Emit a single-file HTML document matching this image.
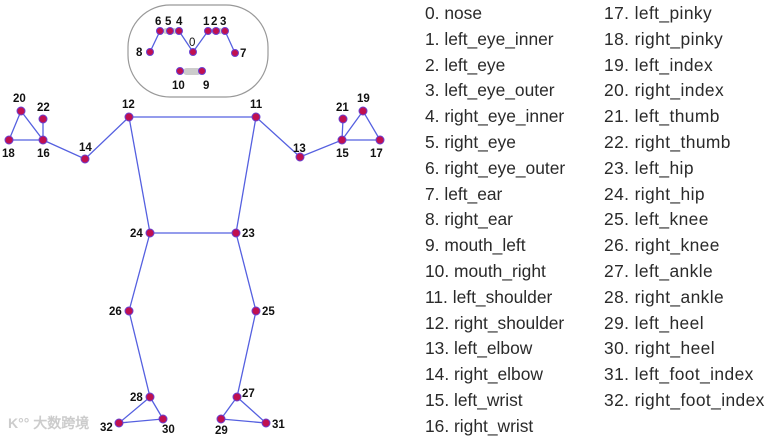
<!DOCTYPE html><html><head><style>
html,body{margin:0;padding:0;background:#fff;}
.c{position:absolute;font:17.4px "Liberation Sans",sans-serif;color:#2a2a2a;line-height:25.8px;white-space:pre}
</style></head><body>
<div style="position:relative;width:772px;height:438px;overflow:hidden">
<svg width="400" height="438" style="position:absolute;left:0;top:0" font-family="Liberation Sans,sans-serif" font-weight="bold" font-size="11.5" fill="#111">
<rect x="128" y="5" width="140" height="92" rx="42" fill="none" stroke="#999" stroke-width="1.2"/>
<g stroke="#5560e0" stroke-width="1.3" fill="none">
<polyline points="150,52 160,31 179,31 193,52 208,31 225,31 235,53"/>
<polyline points="9,140 21,111 43,140 9,140"/><line x1="43" y1="140" x2="43" y2="119"/>
<polyline points="43,140 85,159 129,117 256,117 300,157 342,140 380,140 363,111 342,140 343,119"/>
<polyline points="129,117 150,233 236,233 256,117"/>
<polyline points="150,233 129,311 150,397 119,423 163,419 150,397"/>
<polyline points="236,233 256,311 237,397 221,419 266,423 237,397"/>
</g>
<rect x="163" y="28" width="14" height="6" rx="3" fill="#ccc"/><rect x="211" y="28" width="12" height="6" rx="3" fill="#ccc"/>
<rect x="183" y="68" width="18" height="7" rx="3.5" fill="#ccc"/>
<g fill="#c01050" stroke="#6a40d0" stroke-width="1">
<circle cx="193" cy="52" r="3.5"/><circle cx="208" cy="31" r="3.5"/><circle cx="216" cy="31" r="3.5"/><circle cx="225" cy="31" r="3.5"/><circle cx="179" cy="31" r="3.5"/><circle cx="170" cy="31" r="3.5"/><circle cx="160" cy="31" r="3.5"/><circle cx="235" cy="53" r="3.5"/><circle cx="150" cy="52" r="3.5"/><circle cx="202" cy="71" r="3.5"/><circle cx="180" cy="71" r="3.5"/>
<circle cx="256" cy="117" r="4"/><circle cx="129" cy="117" r="4"/><circle cx="300" cy="157" r="4"/><circle cx="85" cy="159" r="4"/><circle cx="342" cy="140" r="4"/><circle cx="43" cy="140" r="4"/><circle cx="380" cy="140" r="4"/><circle cx="9" cy="140" r="4"/><circle cx="363" cy="111" r="4"/><circle cx="21" cy="111" r="4"/><circle cx="343" cy="119" r="4"/><circle cx="43" cy="119" r="4"/><circle cx="236" cy="233" r="4"/><circle cx="150" cy="233" r="4"/><circle cx="256" cy="311" r="4"/><circle cx="129" cy="311" r="4"/><circle cx="237" cy="397" r="4"/><circle cx="150" cy="397" r="4"/><circle cx="221" cy="419" r="4"/><circle cx="163" cy="419" r="4"/><circle cx="266" cy="423" r="4"/><circle cx="119" cy="423" r="4"/>
</g>
<text x="155" y="25">6</text><text x="165" y="25">5</text><text x="176" y="25">4</text><text x="203" y="25">1</text><text x="211" y="25">2</text><text x="220" y="25">3</text>
<text x="189" y="46" font-weight="normal">0</text><text x="136" y="56">8</text><text x="240" y="57">7</text><text x="172" y="89">10</text><text x="203" y="89">9</text>
<text x="250" y="108">11</text><text x="122" y="108">12</text><text x="293" y="152">13</text><text x="79" y="151">14</text><text x="336" y="157">15</text><text x="37" y="157">16</text><text x="370" y="157">17</text><text x="2" y="157">18</text><text x="357" y="102">19</text><text x="13" y="102">20</text><text x="336" y="111">21</text><text x="37" y="111">22</text>
<text x="242" y="237">23</text><text x="130" y="237">24</text><text x="262" y="315">25</text><text x="109" y="315">26</text><text x="242" y="397">27</text><text x="130" y="401">28</text><text x="215" y="434">29</text><text x="162" y="433">30</text><text x="272" y="428">31</text><text x="100" y="431">32</text>
<text x="8" y="428" fill="#ccc" font-size="14">K°° 大数跨境</text>
</svg>
<div class="c" style="left:425px;top:1px">0. nose
1. left_eye_inner
2. left_eye
3. left_eye_outer
4. right_eye_inner
5. right_eye
6. right_eye_outer
7. left_ear
8. right_ear
9. mouth_left
10. mouth_right
11. left_shoulder
12. right_shoulder
13. left_elbow
14. right_elbow
15. left_wrist
16. right_wrist</div>
<div class="c" style="left:604px;top:1px;letter-spacing:0.4px">17. left_pinky
18. right_pinky
19. left_index
20. right_index
21. left_thumb
22. right_thumb
23. left_hip
24. right_hip
25. left_knee
26. right_knee
27. left_ankle
28. right_ankle
29. left_heel
30. right_heel
31. left_foot_index
32. right_foot_index</div>
</div></body></html>
